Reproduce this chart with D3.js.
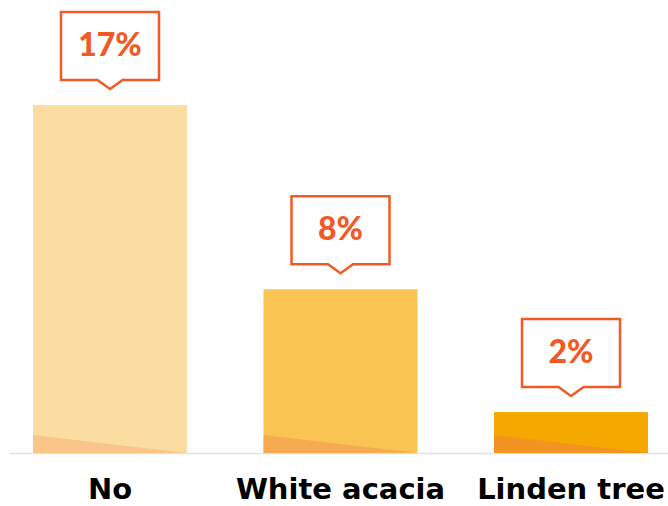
<!DOCTYPE html>
<html>
<head>
<meta charset="utf-8">
<script src="https://cdn.jsdelivr.net/npm/d3@7"></script>
<style>
  html, body { margin: 0; padding: 0; background: #fff; }
  svg { display: block; }
</style>
</head>
<body>
<div id="chart"></div>
<script>
const categories = ["No", "White acacia", "Linden tree"];
const values = [17, 8, 2];
const valueLabels = ["17%", "8%", "2%"];
const barColors = ["#FCDDA1", "#FAC452", "#F5A800"];
const shadeColors = ["#F9C589", "#F6AB52", "#F29322"];

function renderChart(){
    const width = 668, height = 506;
    const baseY = 453;

    const svg = d3.select("#chart")
        .append("svg")
        .attr("width", width)
        .attr("height", height);

    const x = d3.scaleBand()
        .domain(categories)
        .range([33, 648])
        .paddingInner(0.332)
        .paddingOuter(0);

    const y = d3.scaleLinear()
        .domain([0, 17])
        .range([baseY, 105]);

    const data = categories.map((c, i) => ({ cat: c, value: values[i], label: valueLabels[i], i: i }));

    // baseline
    svg.append("line")
        .attr("x1", 9).attr("x2", width)
        .attr("y1", baseY + 0.5).attr("y2", baseY + 0.5)
        .attr("stroke", "#E3E3E3")
        .attr("stroke-width", 1.5);

    const bars = svg.selectAll(".bar").data(data).enter().append("g").attr("class", "bar");

    bars.append("rect")
        .attr("x", d => x(d.cat))
        .attr("y", d => y(d.value))
        .attr("width", x.bandwidth())
        .attr("height", d => baseY - y(d.value))
        .attr("fill", d => barColors[d.i]);

    // darker wedge at bottom of each bar
    bars.append("path")
        .attr("d", d => {
            const x0 = x(d.cat), x1 = x0 + x.bandwidth();
            return `M${x0},${baseY - 18}L${x1},${baseY}L${x0},${baseY}Z`;
        })
        .attr("fill", d => shadeColors[d.i]);

    // callout boxes
    const boxW = 98, boxH = 68, gap = 25, ptrW = 12.5, ptrH = 9;
    bars.append("path")
        .attr("d", d => {
            const cx = x(d.cat) + x.bandwidth() / 2;
            const b = y(d.value) - gap;
            const t = b - boxH;
            const l = cx - boxW / 2, r = cx + boxW / 2;
            return `M${l},${t}H${r}V${b}H${cx + ptrW}L${cx},${b + ptrH}L${cx - ptrW},${b}H${l}Z`;
        })
        .attr("fill", "#fff")
        .attr("stroke", "#F15A24")
        .attr("stroke-width", 2.5)
        .attr("stroke-linejoin", "miter");

    bars.append("text")
        .attr("x", d => x(d.cat) + x.bandwidth() / 2)
        .attr("y", d => y(d.value) - gap - boxH / 2 + 10)
        .attr("text-anchor", "middle")
        .attr("font-family", "Lato, sans-serif")
        .attr("font-weight", 900)
        .attr("font-size", 32)
        .attr("fill", "#F15A24")
        .text(d => d.label);

    // category labels
    svg.selectAll(".cat").data(data).enter().append("text")
        .attr("class", "cat")
        .attr("x", d => x(d.cat) + x.bandwidth() / 2)
        .attr("y", 499)
        .attr("text-anchor", "middle")
        .attr("font-family", "'DejaVu Sans', sans-serif")
        .attr("font-weight", "bold")
        .attr("font-size", 29)
        .attr("fill", "#000")
        .text(d => d.cat);
}
renderChart();
</script>
</body>
</html>
